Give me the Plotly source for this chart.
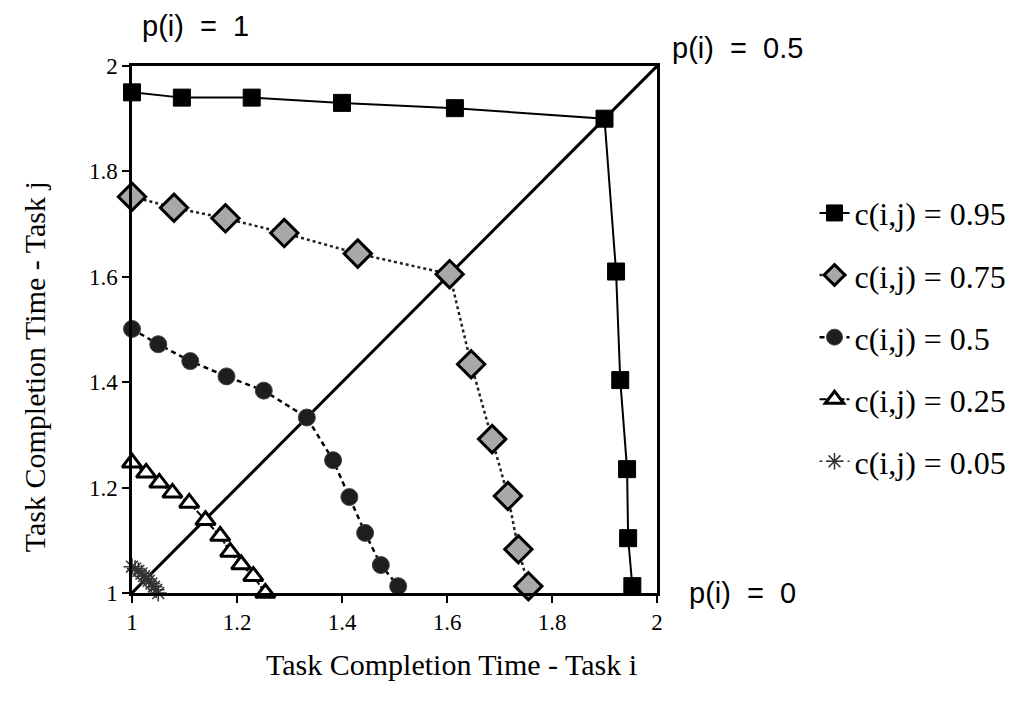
import plotly.graph_objects as go

# ---- data ----
labels = ["c(i,j) = 0.95", "c(i,j) = 0.75", "c(i,j) = 0.5", "c(i,j) = 0.25", "c(i,j) = 0.05"]

x95 = [1.0, 1.095, 1.228, 1.40, 1.615, 1.90, 1.922, 1.93, 1.943, 1.945, 1.953]
y95 = [1.95, 1.94, 1.94, 1.93, 1.92, 1.90, 1.61, 1.404, 1.235, 1.104, 1.013]

x75 = [1.0, 1.08, 1.178, 1.29, 1.43, 1.605, 1.646, 1.686, 1.716, 1.736, 1.755]
y75 = [1.752, 1.731, 1.711, 1.683, 1.644, 1.605, 1.434, 1.292, 1.184, 1.083, 1.013]

x50 = [1.0, 1.05, 1.111, 1.18, 1.251, 1.333, 1.383, 1.414, 1.444, 1.474, 1.507]
y50 = [1.501, 1.472, 1.44, 1.411, 1.384, 1.333, 1.252, 1.182, 1.114, 1.053, 1.013]

x25 = [1.0, 1.027, 1.052, 1.077, 1.109, 1.14, 1.168, 1.187, 1.208, 1.231, 1.254]
y25 = [1.247, 1.228, 1.209, 1.19, 1.171, 1.138, 1.108, 1.078, 1.054, 1.032, 1.0]

x05 = [1.0, 1.006, 1.012, 1.018, 1.023, 1.027, 1.032, 1.037, 1.042, 1.046, 1.05]
y05 = [1.05, 1.046, 1.042, 1.037, 1.032, 1.027, 1.023, 1.018, 1.012, 1.006, 1.0]

diag_x = [1.0, 2.0]
diag_y = [1.0, 2.0]

x_ticks = [1, 1.2, 1.4, 1.6, 1.8, 2]
y_ticks = [1, 1.2, 1.4, 1.6, 1.8, 2]
tick_text = ["1", "1.2", "1.4", "1.6", "1.8", "2"]

x_title = "Task Completion Time - Task i"
y_title = "Task Completion Time - Task j"

SERIF = "Liberation Serif, Times New Roman, serif"
SANS = "Liberation Sans, Arial, Helvetica, sans-serif"

fig = go.Figure()

fig.add_trace(go.Scatter(x=diag_x, y=diag_y, mode="lines",
                         line=dict(color="black", width=3),
                         showlegend=False, hoverinfo="skip"))

styles = [
    dict(x=x95, y=y95, line=dict(color="black", width=2, dash="solid"),
         marker=dict(symbol="square", size=17, color="black",
                     line=dict(color="black", width=1))),
    dict(x=x75, y=y75, line=dict(color="#222", width=2.5, dash="dot"),
         marker=dict(symbol="diamond", size=21, color="#a8a8a8",
                     line=dict(color="black", width=3))),
    dict(x=x50, y=y50, line=dict(color="black", width=2.5, dash="5px,4px"),
         marker=dict(symbol="circle", size=17, color="#1e1e1e",
                     line=dict(color="#444", width=1))),
    dict(x=x25, y=y25, line=dict(color="black", width=2, dash="7px,2px"),
         marker=dict(symbol="triangle-up", size=17, color="white",
                     line=dict(color="black", width=3))),
    dict(x=x05, y=y05, line=dict(color="#333", width=1.5, dash="3px,4px"),
         marker=dict(symbol="asterisk-open", size=14, color="#333",
                     line=dict(color="#333", width=1.5))),
]

for lab, st in zip(labels, styles):
    fig.add_trace(go.Scatter(x=st["x"], y=st["y"], mode="lines+markers",
                             name=lab, line=st["line"], marker=st["marker"],
                             cliponaxis=False, legendgroup=lab))

axis_common = dict(range=[1, 2], showgrid=False, zeroline=False,
                   showline=True, linecolor="black", linewidth=2.5, mirror=True,
                   ticks="outside", ticklen=7, tickwidth=2, tickcolor="black",
                   tickfont=dict(family=SERIF, size=23, color="black"))

fig.update_xaxes(**axis_common, tickvals=x_ticks, ticktext=tick_text)
fig.update_yaxes(**axis_common, tickvals=y_ticks, ticktext=tick_text)

# axis titles as annotations (positioned as in the reference)
fig.add_annotation(xref="paper", yref="paper", x=0.608, y=-0.135,
                   text=x_title, showarrow=False, xanchor="center", yanchor="middle",
                   font=dict(family=SERIF, size=30, color="black"))
fig.add_annotation(xref="paper", yref="paper", x=-0.185, y=0.43,
                   text=y_title, showarrow=False, textangle=-90,
                   xanchor="center", yanchor="middle",
                   font=dict(family=SERIF, size=30, color="black"))

NB = "\u00a0"
annots = [
    dict(text=f"p(i){NB}{NB}={NB}{NB}1", x=0.12, y=1.075, xanchor="center", yanchor="middle"),
    dict(text=f"p(i){NB}{NB}={NB}{NB}0.5", x=1.025, y=1.035, xanchor="left", yanchor="middle"),
    dict(text=f"p(i){NB}{NB}={NB}{NB}0", x=1.058, y=0.0, xanchor="left", yanchor="middle"),
]
for a in annots:
    fig.add_annotation(xref="paper", yref="paper", showarrow=False,
                       font=dict(family=SANS, size=29, color="black"), **a)

fig.update_layout(
    width=1015, height=708,
    margin=dict(l=124, r=363, t=58, b=123),
    paper_bgcolor="white", plot_bgcolor="white",
    legend=dict(x=1.3, y=0.773, xanchor="left", yanchor="top",
                font=dict(family=SERIF, size=32, color="black"),
                tracegroupgap=17.5, bgcolor="rgba(0,0,0,0)"),
    showlegend=True,
)

fig.write_html("out.html")
